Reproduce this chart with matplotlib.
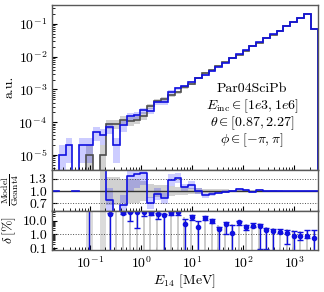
import numpy as np
import matplotlib
matplotlib.use("Agg")
from matplotlib import pyplot as plt
from matplotlib.ticker import LogLocator, NullFormatter, FixedLocator, FixedFormatter

plt.rcParams["font.family"] = "cmr10"
plt.rcParams["mathtext.fontset"] = "cm"
plt.rcParams["axes.formatter.use_mathtext"] = True
plt.rcParams["font.size"] = 10

nan = np.nan

# log binning of E_14 [MeV], 39 bins
edges = np.logspace(-1.745, 3.455, 40)
n_events = 1e5

# raw counts per bin
g4_counts = np.array([0, 0, 0, 0, 0, 1, 0, 1, 9, 9,
                      12, 11, 12, 16, 31, 44, 50, 66, 83, 115,
                      148, 219, 317, 400, 522, 674, 891, 1130, 1539, 2154,
                      2700, 3668, 4760, 6290, 8530, 11200, 14830, 19900, 6930])
model_counts = np.array([0, 1, 2, 0, 2, 2, 5, 4, 7, 2,
                         8, 15, 17, 23, 22, 41, 41, 84, 110, 125,
                         170, 219, 282, 372, 501, 661, 891, 1175, 1585, 2089,
                         2754, 3631, 4786, 6310, 8511, 11220, 14791, 19953, 6918])

# delta [%] per bin (model points) with error bar ends
delta = np.array([nan, nan, nan, nan, nan, 90, nan, nan, 28, nan,
                  37, 40, 42, 41, 38, 30, 24, 33, 42, 5.7,
                  18, 3.2, 16, 10, 2.5, 5.7, 1.2, 7.5, 3.2, 4.2,
                  4.2, 2.1, 1.9, 1.6, 1.2, 0.76, 0.76, 0.76, 0.56])
delta_lo = np.array([nan, nan, nan, nan, nan, 0.01, nan, nan, 0.01, nan,
                     30, 9, 2.8, 21, 24, 14, 0.01, 24, 26, 0.01,
                     10.5, 0.01, 12, 6.7, 0.01, 1.07, 0.01, 5, 2.1, 3.4,
                     0.09, 0.09, 0.01, 1.2, 0.19, 0.01, 0.43, 0.51, 0.01])
delta_hi = np.array([nan, nan, nan, nan, nan, 200, nan, nan, 33, nan,
                     42, 45, 47, 47, 45, 35, 28, 42, 50, 14,
                     24, 8.9, 21, 13.4, 3.2, 7.5, 5, 8.9, 5, 6.7,
                     6, 2.8, 2.4, 2.4, 2.1, 1.8, 1.6, 2.1, 2.1])
g4_delta_top = np.array([nan, nan, nan, nan, nan, nan, nan, nan, 45, 42,
                         45, 45, 47, 47, 45, 38, 30, 42, 50, 18,
                         24, 10, 21, 14, 4.5, 8, 5.5, 9, 5.5, 7,
                         6.5, 3.2, 2.7, 2.5, 2.3, 2.0, 1.8, 2.2, 2.2])

info = ["Par04SciPb", r"$E_{\rm inc} \in [1e3, 1e6]$",
        r"$\theta \in [0.87, 2.27]$", r"$\phi \in [-\pi, \pi]$"]

centers = np.sqrt(edges[:-1] * edges[1:])
g4 = g4_counts / n_events
model = model_counts / n_events
g4_err = np.sqrt(g4_counts) / n_events
model_err = np.sqrt(model_counts) / n_events


def ext(a):
    return np.append(a, a[-1])


fig = plt.figure(figsize=(3.24, 2.92), dpi=100)
W, H = 324.0, 292.0
x0, x1 = 52 / W, 317.5 / W
ax = fig.add_axes([x0, 1 - 169.5 / H, x1 - x0, 164.5 / H])
axr = fig.add_axes([x0, 1 - 210.5 / H, x1 - x0, 41 / H], sharex=ax)
axd = fig.add_axes([x0, 1 - 250 / H, x1 - x0, 39.5 / H], sharex=ax)

blue = "#1010e0"
grey_line = "0.3"

# main panel
ax.set_xscale("log")
ax.set_yscale("log")
ax.fill_between(edges, ext(np.clip(g4 - g4_err, 1e-9, None)), ext(np.clip(g4 + g4_err, 1e-9, None)),
                step="post", color="0.55", alpha=0.4, lw=0)
ax.fill_between(edges, ext(np.clip(model - model_err, 1e-9, None)), ext(np.clip(model + model_err, 1e-9, None)),
                step="post", color="blue", alpha=0.2, lw=0)
ax.stairs(g4, edges, color=grey_line, lw=1.2)
ax.stairs(model, edges, color=blue, lw=1.2)
ax.set_ylim(3.6e-6, 0.38)
ax.set_xlim(edges[0], edges[-1])
ax.set_ylabel("a.u.")
ax.yaxis.set_label_coords(-0.138, 0.5)
for k, s in enumerate(info):
    ax.text(0.753, 0.489 - 0.1035 * k, s, transform=ax.transAxes, ha="center", va="center", fontsize=10)

# ratio panel
with np.errstate(divide="ignore", invalid="ignore"):
    ratio = np.where(g4_counts > 0, model_counts / g4_counts, np.where(model_counts > 0, nan, 1.0))
    g4_rel = np.where(g4_counts > 0, 1 / np.sqrt(g4_counts), nan)
    model_rel = np.where(model_counts > 0, 1 / np.sqrt(model_counts), nan)
axr.fill_between(edges, ext(1 - g4_rel), ext(1 + g4_rel), step="post", color="0.55", alpha=0.4, lw=0)
axr.fill_between(edges, ext(ratio * (1 - model_rel)), ext(ratio * (1 + model_rel)), step="post",
                 color="blue", alpha=0.2, lw=0)
axr.axhline(1.0, color="0.2", lw=1.0)
axr.axhline(1.3, color="0.3", lw=0.7, ls=":")
axr.axhline(0.7, color="0.3", lw=0.7, ls=":")
axr.step(edges, ext(ratio), where="post", color=blue, lw=1.2)
axr.set_ylim(0.52, 1.53)
axr.set_yticks([0.7, 1.0, 1.3])
axr.set_yticklabels(["0.7", "1.0", "1.3"])
axr.set_ylabel(r"$\frac{\mathrm{Model}}{\mathrm{Geant4}}$", fontsize=10)
axr.yaxis.set_label_coords(-0.115, 0.5)

# delta panel
axd.set_yscale("log")
for i in range(len(centers)):
    if g4_counts[i] == 1:
        axd.axvspan(edges[i], edges[i + 1], color="0.8", alpha=0.7, lw=0)
axd.vlines(centers * 0.985, 0.01, g4_delta_top, color="0.78", lw=1.3)
axd.axhline(1.0, color="0.3", lw=0.7, ls=":")
m = np.isfinite(delta)
axd.errorbar(centers[m], delta[m], yerr=[delta[m] - delta_lo[m], delta_hi[m] - delta[m]],
             fmt="o", color=blue, ms=3, capsize=2, elinewidth=1, capthick=1)
axd.set_ylim(0.075, 54)
axd.yaxis.set_major_locator(FixedLocator([0.1, 1, 10]))
axd.yaxis.set_major_formatter(FixedFormatter(["0.1", "1.0", "10.0"]))
axd.yaxis.set_minor_locator(LogLocator(base=10, subs=np.arange(2, 10), numticks=20))
axd.yaxis.set_minor_formatter(NullFormatter())
axd.set_ylabel(r"$\delta\,[\%]$")
axd.yaxis.set_label_coords(-0.128, 0.5)
axd.set_xlabel(r"$E_{14}$ [MeV]", labelpad=1)
axd.xaxis.set_major_locator(LogLocator(base=10, numticks=10))
axd.xaxis.set_minor_locator(LogLocator(base=10, subs=np.arange(2, 10), numticks=20))

ax.yaxis.set_major_locator(LogLocator(base=10, numticks=10))
ax.yaxis.set_minor_locator(LogLocator(base=10, subs=np.arange(2, 10), numticks=20))
ax.yaxis.set_minor_formatter(NullFormatter())

for a in (ax, axr, axd):
    a.tick_params(which="both", direction="in", top=False, right=False, labelsize=10)
    a.tick_params(which="major", length=3.5)
    a.tick_params(which="minor", length=2)
    for sp in a.spines.values():
        sp.set_color("0.35")
        sp.set_linewidth(1.0)
for a in (ax, axr):
    plt.setp(a.get_xticklabels(), visible=False)

fig.savefig("out.png", dpi=100)
